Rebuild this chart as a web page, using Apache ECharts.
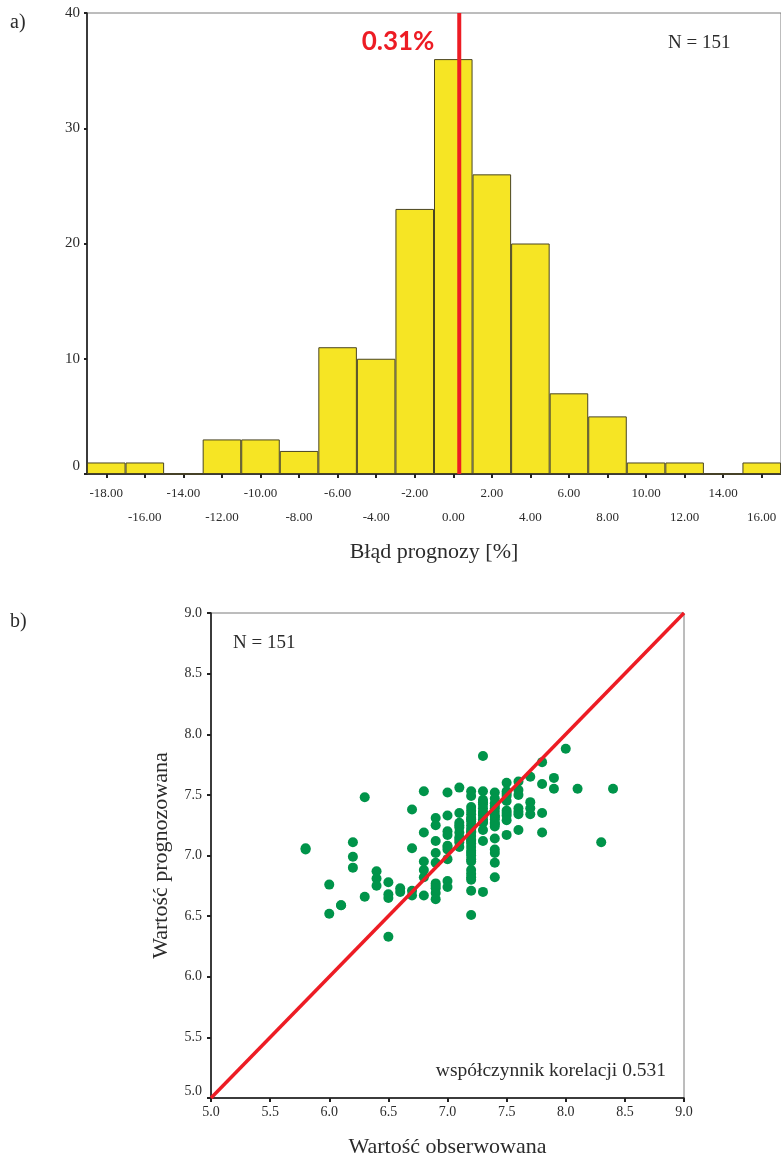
<!DOCTYPE html>
<html>
<head>
<meta charset="utf-8">
<script src="https://cdn.jsdelivr.net/npm/echarts@6/dist/echarts.min.js"></script>
<style>
  html, body { margin: 0; padding: 0; background: #ffffff; }
  #chart { width: 781px; height: 1160px; }
</style>
</head>
<body>
<div id="chart"></div>
<script>
// Histogram of forecast errors: bin centres [%] and counts
const binCenters = [-18, -16, -14, -12, -10, -8, -6, -4, -2, 0, 2, 4, 6, 8, 10, 12, 14, 16];
const binCounts  = [1, 1, 0, 3, 3, 2, 11, 10, 23, 36, 26, 20, 7, 5, 1, 1, 0, 1];
const countTicks = [0, 40, 10];          // min, max, step of the count axis
const meanError  = 0.31;                 // mean forecast error [%]
const sampleSize = 151;
const correlation = 0.531;

// Observed values (columns) and the predicted values recorded for each of them
const obsColumns = [5.8, 6.0, 6.1, 6.2, 6.3, 6.4, 6.5, 6.6, 6.7, 6.8, 6.9, 7.0, 7.1, 7.2, 7.3, 7.4, 7.5, 7.6, 7.7, 7.8, 7.9, 8.0, 8.1, 8.3, 8.4];
const predByColumn = [
  [7.06, 7.05],
  [6.76, 6.52],
  [6.59, 6.59],
  [7.11, 6.99, 6.90],
  [7.48, 6.66],
  [6.87, 6.81, 6.75],
  [6.78, 6.68, 6.65, 6.33],
  [6.73, 6.70],
  [7.38, 7.06, 6.71, 6.67],
  [7.53, 7.19, 6.95, 6.88, 6.82, 6.67],
  [7.31, 7.25, 7.12, 7.02, 6.94, 6.77, 6.75, 6.73, 6.69, 6.64],
  [7.52, 7.33, 7.20, 7.17, 7.08, 7.07, 7.05, 6.97, 6.79, 6.74],
  [7.56, 7.35, 7.27, 7.25, 7.23, 7.19, 7.15, 7.13, 7.11, 7.07],
  [7.53, 7.49, 7.40, 7.37, 7.34, 7.31, 7.30, 7.28, 7.25, 7.22, 7.20, 7.19, 7.16, 7.13, 7.12, 7.10, 7.07, 7.04, 7.02, 7.00, 6.97, 6.95, 6.88, 6.85, 6.82, 6.80, 6.71, 6.51],
  [7.82, 7.53, 7.46, 7.44, 7.42, 7.39, 7.36, 7.35, 7.33, 7.30, 7.28, 7.27, 7.21, 7.12, 6.70],
  [7.52, 7.47, 7.43, 7.41, 7.39, 7.36, 7.33, 7.32, 7.30, 7.27, 7.26, 7.24, 7.14, 7.05, 7.02, 6.94, 6.82],
  [7.60, 7.53, 7.51, 7.49, 7.45, 7.37, 7.35, 7.33, 7.29, 7.17],
  [7.61, 7.54, 7.50, 7.39, 7.36, 7.34, 7.21],
  [7.65, 7.44, 7.39, 7.34],
  [7.77, 7.59, 7.35, 7.19],
  [7.64, 7.55],
  [7.88],
  [7.55],
  [7.11],
  [7.55]
];
const valueRange = [5, 9, 0.5];          // min, max, step of both scatter axes

const scatterPoints = [];
obsColumns.forEach((x, i) => predByColumn[i].forEach(y => scatterPoints.push([x, y])));

const SERIF = '"Liberation Serif", "DejaVu Serif", serif';
const TEXT = '#2b2b2b';
const RED = '#ed1c24';

const axisLine = { show: true, onZero: false, lineStyle: { color: '#111', width: 1.5 } };

const chart = echarts.init(document.getElementById('chart'), null, { renderer: 'canvas' });

chart.setOption({
  animation: false,
  backgroundColor: '#ffffff',
  grid: [
    { left: 87, top: 13, width: 694, height: 461, show: true, borderColor: '#7a7a7a', borderWidth: 1, containLabel: false },
    { left: 211, top: 613, width: 473, height: 485, show: true, borderColor: '#7a7a7a', borderWidth: 1, containLabel: false }
  ],
  xAxis: [
    {
      type: 'category', gridIndex: 0,
      data: binCenters.map(v => v.toFixed(2)),
      boundaryGap: true,
      axisLine: axisLine,
      axisTick: { show: true, alignWithLabel: true, inside: false, length: 4, lineStyle: { color: '#222', width: 2 } },
      axisLabel: {
        interval: 0, margin: 8, lineHeight: 24,
        fontFamily: SERIF, fontSize: 13, color: TEXT,
        formatter: (v, i) => (i % 2 ? '\n' + v : v)
      },
      splitLine: { show: false },
      name: 'Błąd prognozy [%]', nameLocation: 'middle', nameGap: 67,
      nameTextStyle: { fontFamily: SERIF, fontSize: 22, color: TEXT }
    },
    {
      type: 'value', gridIndex: 0, min: -19, max: 17, show: false,
      axisLine: { show: false, onZero: false }
    },
    {
      type: 'value', gridIndex: 1, min: valueRange[0], max: valueRange[1], interval: valueRange[2],
      axisLine: axisLine,
      axisTick: { show: true, inside: false, length: 4, lineStyle: { color: '#222', width: 2 } },
      axisLabel: { margin: 7, fontFamily: SERIF, fontSize: 14, color: TEXT, formatter: v => v.toFixed(1) },
      splitLine: { show: false },
      name: 'Wartość obserwowana', nameLocation: 'middle', nameGap: 38,
      nameTextStyle: { fontFamily: SERIF, fontSize: 22, color: TEXT }
    }
  ],
  yAxis: [
    {
      type: 'value', gridIndex: 0, min: countTicks[0], max: countTicks[1], interval: countTicks[2],
      axisLine: axisLine,
      axisTick: { show: true, inside: false, length: 3, lineStyle: { color: '#222', width: 2 } },
      axisLabel: { margin: 7, fontFamily: SERIF, fontSize: 15, color: TEXT, verticalAlignMinLabel: 'bottom' },
      splitLine: { show: false }
    },
    {
      type: 'value', gridIndex: 1, min: valueRange[0], max: valueRange[1], interval: valueRange[2],
      axisLine: axisLine,
      axisTick: { show: true, inside: false, length: 4, lineStyle: { color: '#222', width: 2 } },
      axisLabel: { margin: 9, fontFamily: SERIF, fontSize: 14, color: TEXT, formatter: v => v.toFixed(1), verticalAlignMinLabel: 'bottom' },
      splitLine: { show: false },
      name: 'Wartość prognozowana', nameLocation: 'middle', nameGap: 39,
      nameTextStyle: { fontFamily: SERIF, fontSize: 22, color: TEXT }
    }
  ],
  series: [
    {
      type: 'bar', xAxisIndex: 0, yAxisIndex: 0,
      data: binCounts,
      barCategoryGap: '0%',
      itemStyle: { color: '#f6e524', borderColor: '#4a4522', borderWidth: 1 },
      z: 2
    },
    {
      type: 'line', xAxisIndex: 1, yAxisIndex: 0,
      data: [[meanError, countTicks[0]], [meanError, countTicks[1]]],
      symbol: 'none',
      lineStyle: { color: RED, width: 4 },
      z: 5
    },
    {
      type: 'scatter', xAxisIndex: 2, yAxisIndex: 1,
      data: scatterPoints,
      symbol: 'circle', symbolSize: 10,
      itemStyle: { color: '#00944a', opacity: 1 },
      z: 3
    },
    {
      type: 'line', xAxisIndex: 2, yAxisIndex: 1,
      data: [[valueRange[0], valueRange[0]], [valueRange[1], valueRange[1]]],
      symbol: 'none',
      lineStyle: { color: RED, width: 3.5 },
      z: 5
    }
  ],
  graphic: [
    { type: 'text', x: 10, y: 23, style: { text: 'a)', font: '20px ' + SERIF, fill: TEXT, verticalAlign: 'middle' } },
    { type: 'text', x: 398, y: 42, z: 10, style: { text: meanError.toFixed(2) + '%', font: 'bold 26px Lato, "Open Sans", sans-serif', fill: RED, align: 'center', verticalAlign: 'middle' } },
    { type: 'text', x: 668, y: 43, style: { text: 'N = ' + sampleSize, font: '19px ' + SERIF, fill: TEXT, verticalAlign: 'middle' } },
    { type: 'text', x: 10, y: 622, style: { text: 'b)', font: '20px ' + SERIF, fill: TEXT, verticalAlign: 'middle' } },
    { type: 'text', x: 233, y: 643, style: { text: 'N = ' + sampleSize, font: '19px ' + SERIF, fill: TEXT, verticalAlign: 'middle' } },
    { type: 'text', x: 666, y: 1071, style: { text: 'współczynnik korelacji ' + correlation.toFixed(3), font: '19.5px ' + SERIF, fill: TEXT, align: 'right', verticalAlign: 'middle' } }
  ]
});
</script>
</body>
</html>
